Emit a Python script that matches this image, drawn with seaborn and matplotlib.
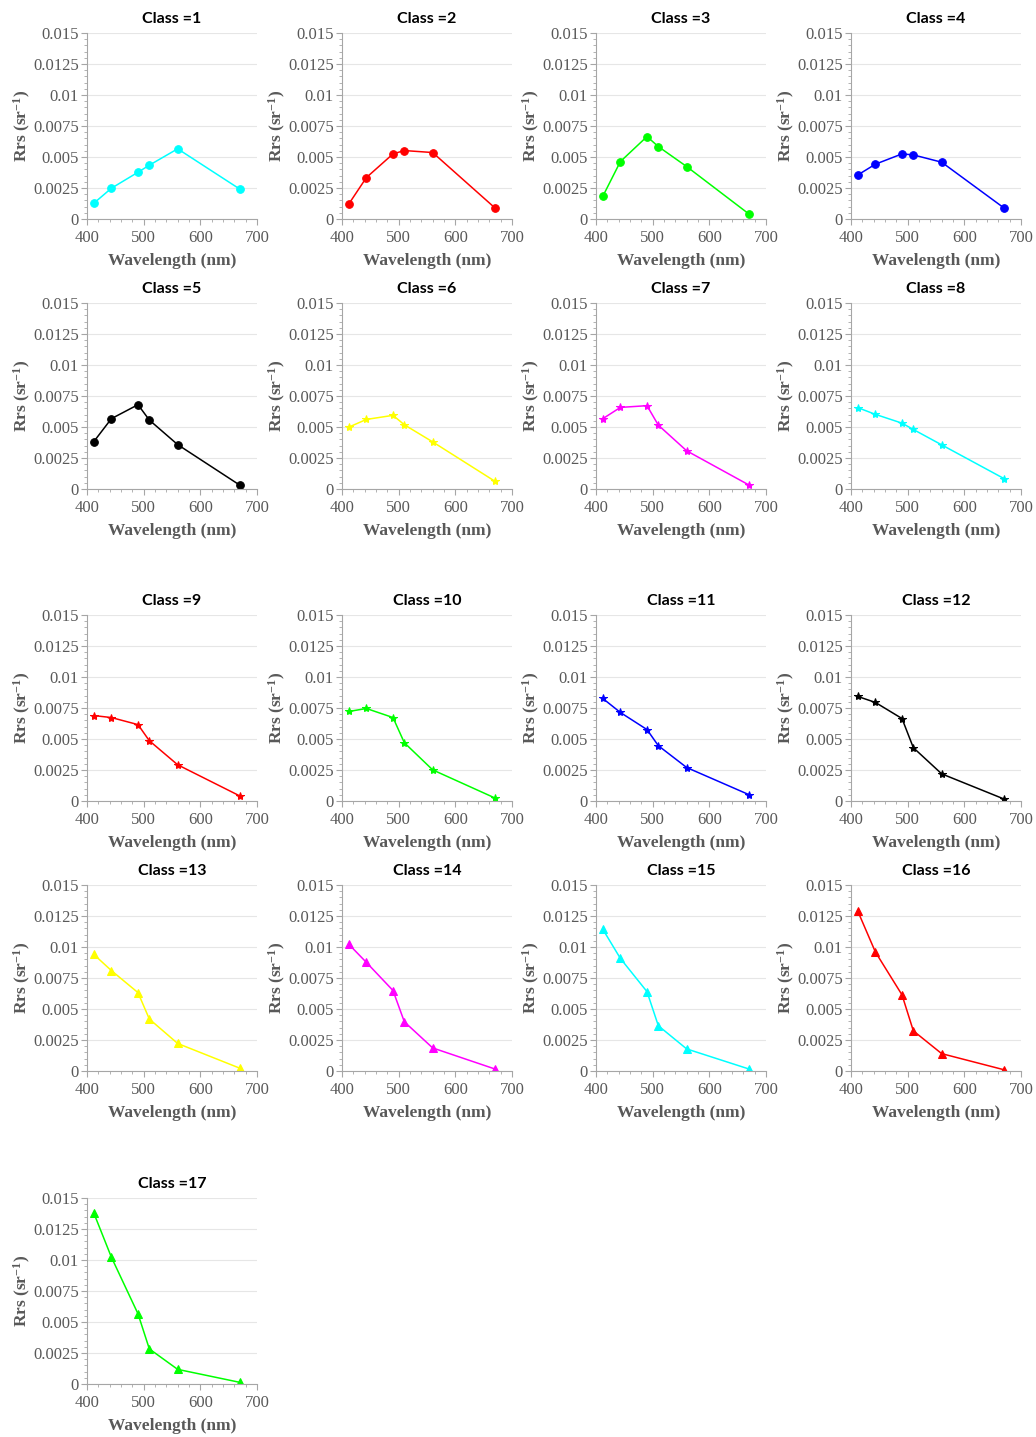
import matplotlib
matplotlib.use("Agg")
import matplotlib.pyplot as plt
import matplotlib.ticker as mticker
import seaborn as sns
import pandas as pd

# %% data
wavelengths = [412, 443, 490, 510, 560, 670]
class_ids = list(range(1, 18))

rrs = [
    [0.00127, 0.00248, 0.00377, 0.00434, 0.00566, 0.00240],   # 1
    [0.00121, 0.00334, 0.00525, 0.00552, 0.00536, 0.00089],   # 2
    [0.00183, 0.00463, 0.00665, 0.00584, 0.00423, 0.00040],   # 3
    [0.00355, 0.00442, 0.00525, 0.00517, 0.00458, 0.00089],   # 4
    [0.00382, 0.00567, 0.00680, 0.00556, 0.00358, 0.00030],   # 5
    [0.00499, 0.00561, 0.00594, 0.00518, 0.00380, 0.00062],   # 6
    [0.00567, 0.00658, 0.00672, 0.00515, 0.00308, 0.00032],   # 7
    [0.00656, 0.00602, 0.00531, 0.00480, 0.00356, 0.00084],   # 8
    [0.00689, 0.00673, 0.00616, 0.00486, 0.00292, 0.00040],   # 9
    [0.00722, 0.00746, 0.00673, 0.00470, 0.00251, 0.00024],   # 10
    [0.00827, 0.00714, 0.00576, 0.00446, 0.00270, 0.00051],   # 11
    [0.00843, 0.00795, 0.00665, 0.00430, 0.00219, 0.00016],   # 12
    [0.00940, 0.00810, 0.00632, 0.00419, 0.00222, 0.00022],   # 13
    [0.01022, 0.00876, 0.00649, 0.00397, 0.00186, 0.00016],   # 14
    [0.01143, 0.00908, 0.00640, 0.00365, 0.00178, 0.00016],   # 15
    [0.01289, 0.00960, 0.00614, 0.00324, 0.00140, 0.00010],   # 16
    [0.01379, 0.01023, 0.00566, 0.00283, 0.00118, 0.00013],   # 17
]

line_colors = ['#00FFFF', '#FF0000', '#00FF00', '#0000FF', '#000000',
               '#FFFF00', '#FF00FF', '#00FFFF', '#FF0000', '#00FF00',
               '#0000FF', '#000000', '#FFFF00', '#FF00FF', '#00FFFF',
               '#FF0000', '#00FF00']
markers = ['o'] * 5 + ['*'] * 7 + ['^'] * 5
marker_sizes = {'o': 5.5, '*': 6, '^': 5.5}

y_ticks = [0, 0.0025, 0.005, 0.0075, 0.01, 0.0125, 0.015]
y_tick_labels = ['0', '0.0025', '0.005', '0.0075', '0.01', '0.0125', '0.015']
x_ticks = [400, 500, 600, 700]

# %% style
sns.set_theme(style="white")
plt.rcParams['font.family'] = ['Liberation Serif', 'DejaVu Serif']
plt.rcParams['mathtext.fontset'] = 'custom'
plt.rcParams['mathtext.rm'] = 'Liberation Serif'
plt.rcParams['mathtext.bf'] = 'Liberation Serif:bold'
plt.rcParams['mathtext.it'] = 'Liberation Serif:italic'
plt.rcParams['mathtext.default'] = 'bf'
grey = '#595959'

fig = plt.figure(figsize=(10.36, 14.37), dpi=100)
W, H = 1036, 1437
col_left = [87, 342, 596, 851]
row_top = [33, 303, 615, 885, 1198]
ax_w, ax_h = 170, 186

for i, cid in enumerate(class_ids):
    r, c = divmod(i, 4)
    ax = fig.add_axes([col_left[c] / W, 1 - (row_top[r] + ax_h) / H, ax_w / W, ax_h / H])
    df = pd.DataFrame({'wl': wavelengths, 'rrs': rrs[i]})
    m = markers[i]
    sns.lineplot(data=df, x='wl', y='rrs', ax=ax, color=line_colors[i], marker=m,
                 markersize=marker_sizes[m], markeredgecolor=line_colors[i],
                 linewidth=1.1)
    ax.set_xlim(400, 700)
    ax.set_ylim(0, 0.015)
    ax.set_yticks(y_ticks)
    ax.set_yticklabels(y_tick_labels)
    ax.set_xticks(x_ticks)
    ax.yaxis.set_minor_locator(mticker.MultipleLocator(0.0005))
    ax.xaxis.set_minor_locator(mticker.MultipleLocator(20))
    ax.tick_params(axis='both', which='major', length=4, width=0.8, color='#a6a6a6',
                   labelcolor=grey, labelsize=12, pad=2, left=True, bottom=True)
    ax.tick_params(axis='x', which='major', pad=4)
    ax.tick_params(axis='both', which='minor', length=2, width=0.6, color='#a6a6a6',
                   left=True, bottom=True)
    ax.grid(axis='y', color='#e6e6e6', linewidth=0.8)
    ax.set_axisbelow(True)
    for s in ['top', 'right']:
        ax.spines[s].set_visible(False)
    for s in ['left', 'bottom']:
        ax.spines[s].set_color('#a6a6a6')
        ax.spines[s].set_linewidth(0.8)
    ax.set_xlabel('Wavelength (nm)', fontsize=12.5, fontweight='bold', color=grey, labelpad=5)
    ax.set_ylabel('Rrs (sr$^{-1}$)', fontsize=12.5, fontweight='bold', color=grey, labelpad=0)
    ax.set_title(f'Class ={cid}', fontsize=11.5, fontweight='bold', color='black',
                 family=['Lato', 'DejaVu Sans'], pad=7)

plt.savefig('out.png', dpi=100)
